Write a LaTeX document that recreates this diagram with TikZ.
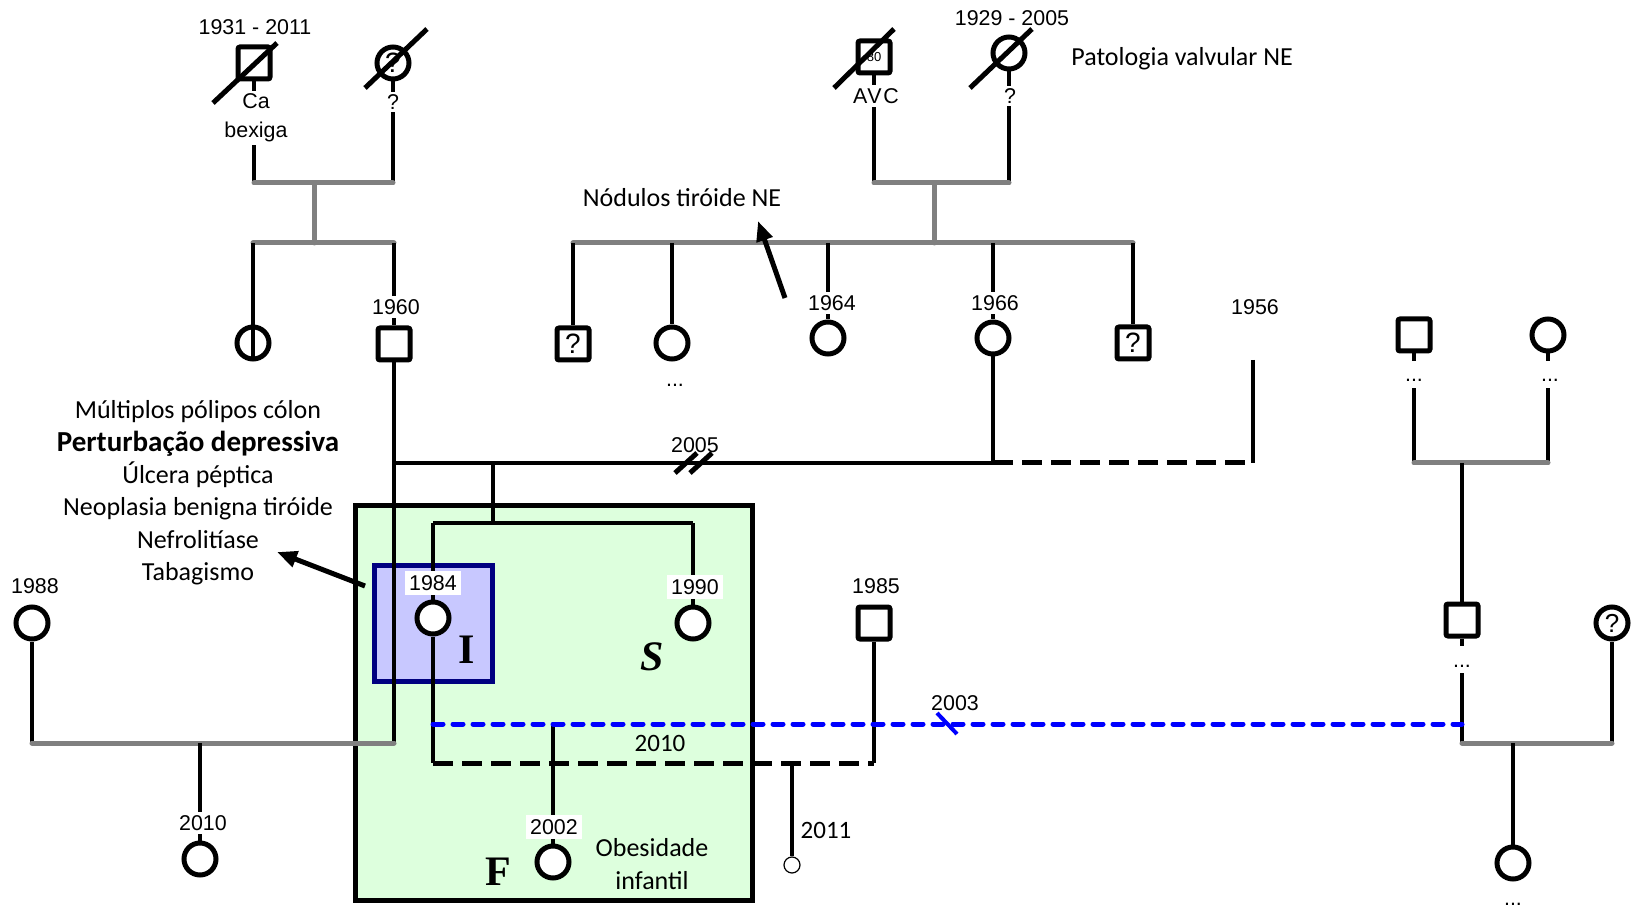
\documentclass[tikz,border=0pt]{standalone}
\usepackage{fontspec}
\setmainfont{Liberation Serif}
\newfontfamily\arialf{Liberation Sans}
\newfontfamily\calf{Carlito}
\usetikzlibrary{arrows.meta}
\definecolor{pgray}{HTML}{808080}
\definecolor{gfill}{HTML}{DDFFDD}
\definecolor{bfill}{HTML}{C8C8FF}
\definecolor{navyb}{HTML}{000080}
\definecolor{bdot}{HTML}{0000FF}
\pgfdeclarelayer{boxlayer}
\pgfdeclarelayer{linelayer}
\pgfsetlayers{boxlayer,linelayer,main}
\tikzset{
  sym/.style={draw=black,line width=2.5pt,fill=white,inner sep=0pt,minimum size=16pt},
  male/.style={sym,rectangle,rounded corners=1pt},
  female/.style={sym,circle},
  arl/.style={font=\arialf\fontsize{10.7pt}{12.8pt}\selectfont},
  lbl/.style={arl,inner sep=1.5pt,fill=white},
  lbln/.style={arl,inner sep=1pt},
  dotlbl/.style={arl,fill=white,inner xsep=1pt,inner ysep=3pt,anchor=base},
  qm/.style={font=\arialf\fontsize{14pt}{16pt}\selectfont},
  cal/.style={font=\calf\fontsize{13pt}{16.2pt}\selectfont,inner sep=0pt,align=center},
  conn/.style={line width=2pt,draw=black},
  gline/.style={line width=2.5pt,draw=pgray,line cap=round},
  dec/.style={line width=2.5pt,draw=black},
  bdash/.style={line width=2.5pt,draw=black,dash pattern=on 10pt off 4.5pt},
  bluedash/.style={line width=2.5pt,draw=bdot,dash pattern=on 5pt off 5pt,line cap=round},
  arr/.style={line width=2.5pt,draw=black,-{Triangle[length=10pt,width=8pt]}},
  letter/.style={font=\bfseries\fontsize{21pt}{24pt}\selectfont,inner sep=0pt},
  grp/.style={draw,line width=2.5pt,inner sep=0pt}
}
\begin{document}
\begin{tikzpicture}[x=0.5pt,y=-0.5pt]
\useasboundingbox (0,0) rectangle (1635,909);

% ---- group boxes
\begin{pgfonlayer}{boxlayer}
\node[grp,fill=gfill,minimum width=198.5pt,minimum height=197.5pt] (fbox) at (554,703) {};
\node[grp,draw=navyb,fill=bfill,minimum width=59pt,minimum height=58pt] (ibox) at (433.5,623.5) {};
\end{pgfonlayer}

% ---- top-left grandparents
\node[male] (gfa) at (254,63) {};
\node[female,qm] (gma) at (393,63) {?};
\node[lbln] (ya) at (255,27) {1931 - 2011};
\node[lbl,align=center,font=\arialf\fontsize{10.7pt}{14.5pt}\selectfont] (cab) at (256,118) {Ca\\bexiga};
\node[lbl] (qa) at (393,102) {?};
\coordinate (pa) at (254,183);
\coordinate (pb) at (393,183);
\coordinate (pm) at (314,183);
\coordinate (sm) at (314,243);
\coordinate (sl) at (253,243);
\coordinate (sr) at (394,243);

% ---- second row left
\node[female] (aunt) at (253,343) {};
\node[male] (fa) at (394,344) {};
\node[lbl] (y60) at (396,307) {1960};

% ---- top-right grandparents
\node[male,font=\arialf\fontsize{6.5pt}{7pt}\selectfont] (gfb) at (874,57) {80};
\node[female] (gmb) at (1009,53) {};
\node[lbln] (yb) at (1012,18) {1929 - 2005};
\node[lbl,font=\arialf\fontsize{10.7pt}{12.8pt}\addfontfeature{LetterSpace=8}\selectfont] (avc) at (876,96) {AVC};
\node[lbl] (qb) at (1010,96) {?};
\node[cal,anchor=west] (pat) at (1071,59) {Patologia valvular NE};
\coordinate (pc) at (874,183);
\coordinate (pd) at (1009,183);
\coordinate (pn) at (934,183);
\coordinate (sn) at (934,243);

% ---- second row right siblings
\node[male,qm] (u1) at (573,344) {?};
\node[female] (u2) at (672,343) {};
\node[lbln] (d2) at (675,385) {...};
\node[female] (u3) at (828,338) {};
\node[lbl] (y64) at (832,303) {1964};
\node[female] (u4) at (993,338) {};
\node[lbl] (y66) at (995,303) {1966};
\node[male,qm] (u5) at (1133,343) {?};
\coordinate (s2l) at (573,243);
\coordinate (s2r) at (1133,243);

\node[cal] (nod) at (682,198) {Nódulos tiróide NE};
\coordinate (nodtail) at (785,298);
\coordinate (nodtip) at (758,221);

% ---- 1956 partner
\node[lbln] (y56) at (1255,307) {1956};
\coordinate (p56) at (1253,360);
\coordinate (mL) at (394,463);
\coordinate (mR) at (993,463);
\coordinate (m56) at (1253,463);
\node[lbln] (y05) at (695,445) {2005};

% ---- children of 1960 & 1966
\coordinate (cd) at (493,463);
\coordinate (cs) at (493,523);
\coordinate (csl) at (433,523);
\coordinate (csr) at (693,523);
\node[female] (i84) at (433,618) {};
\node[lbl,inner sep=2pt] (y84) at (433,583) {1984};
\node[female] (s90) at (693,623) {};
\node[lbl,inner sep=2pt] (y90) at (695,587) {1990};
\node[letter] (lI) at (467,650) {I};
\node[letter,font=\bfseries\itshape\fontsize{21pt}{24pt}\selectfont] (lS) at (652,657) {S};
\node[letter] (lF) at (498,872) {F};

% ---- left text block
\node[cal] (hist) at (198,493) {Múltiplos pólipos cólon\\{\fontsize{14.5pt}{16.2pt}\selectfont\bfseries Perturbação depressiva}\\Úlcera péptica\\Neoplasia benigna tiróide\\Nefrolitíase\\Tabagismo};
\coordinate (artail) at (365,586);
\coordinate (artip) at (277,552);

% ---- 1984's partners and children
\coordinate (bl) at (433,724);
\coordinate (br) at (1462,724);
\coordinate (bd) at (553,724);
\node[female] (c02) at (553,862) {};
\node[lbl,inner sep=2pt] (y02) at (554,827) {2002};
\node[cal] (ob) at (652,864) {Obesidade\\infantil};
\node[font=\calf\fontsize{12.5pt}{14pt}\selectfont,inner sep=0pt] (y10b) at (660,743) {2010};
\coordinate (kl) at (433,763);
\coordinate (kr) at (874,763);
\node[male] (m85) at (874,623) {};
\node[lbln] (y85) at (876,586) {1985};
\coordinate (cd85) at (792,763);
\node[circle,draw,line width=0.6pt,fill=white,minimum size=8pt,inner sep=0pt] (c11) at (792,865) {};
\node[font=\calf\fontsize{12.5pt}{14pt}\selectfont,inner sep=0pt] (y11) at (826,830) {2011};
\node[lbln] (y03) at (955,703) {2003};

% ---- left family (1988)
\node[female] (w88) at (32,623) {};
\node[lbln] (y88) at (35,586) {1988};
\coordinate (wl) at (32,743);
\coordinate (wr) at (394,743);
\coordinate (wd) at (200,743);
\node[female] (c10) at (200,859) {};
\node[lbl] (y10) at (203,823) {2010};

% ---- right family
\node[male] (rm) at (1414,335) {};
\node[female] (rf) at (1548,335) {};
\node[dotlbl] (rmd) at (1414,382) {\vphantom{0}...};
\node[dotlbl] (rfd) at (1550,382) {\vphantom{0}...};
\coordinate (rl) at (1414,463);
\coordinate (rr) at (1548,463);
\coordinate (rd) at (1462,463);
\node[male] (rs) at (1462,620) {};
\node[dotlbl] (rsd) at (1462,667) {\vphantom{0}...};
\coordinate (ql) at (1462,743);
\coordinate (qr) at (1612,743);
\coordinate (qd) at (1513,743);
\node[female,font=\arialf\fontsize{13pt}{15pt}\selectfont] (rq) at (1612,623) {?};
\node[female] (rc) at (1513,863) {};
\node[lbln,anchor=base] (rcd) at (1513,905) {...};

% ---- connectors (under the symbols)
\begin{pgfonlayer}{linelayer}
\draw[conn] (gfa.south) -- (pa);
\draw[conn] (gma.south) -- (pb);
\draw[gline] (pa) -- (pb);
\draw[gline] (pm) -- (sm);
\draw[gline] (sl) -- (sr);
\draw[conn] (sr) -- (fa.north);
\draw[conn] (sl) -- (aunt.north);

\draw[conn] (gfb.south) -- (pc);
\draw[conn] (gmb.south) -- (pd);
\draw[gline] (pc) -- (pd);
\draw[gline] (pn) -- (sn);
\draw[gline] (s2l) -- (s2r);
\draw[conn] (s2l) -- (u1.north);
\draw[conn] (u2.north |- s2l) -- (u2.north);
\draw[conn] (u3.north |- s2l) -- (u3.north);
\draw[conn] (u4.north |- s2l) -- (u4.north);
\draw[conn] (s2r) -- (u5.north);

\draw[conn] (fa.south) -- (wr);
\draw[conn] (mL) -- (mR);
\draw[conn] (u4.south) -- (mR);
\draw[bdash] (mR) -- (m56);
\draw[conn] (p56) -- (m56);

\draw[conn] (cd) -- (cs);
\draw[conn] (csl) -- (csr);
\draw[conn] (csl) -- (i84.north);
\draw[conn] (csr) -- (s90.north);

\draw[conn] (i84.south) -- (kl);
\draw[bdash] (kl) -- (kr);
\draw[conn] (m85.south) -- (kr);
\draw[conn] (cd85) -- (c11.north);
\draw[conn] (bd) -- (c02.north);

\draw[conn] (w88.south) -- (wl);
\draw[gline] (wl) -- (wr);
\draw[conn] (wd) -- (c10.north);

\draw[conn] (rm.south) -- (rl);
\draw[conn] (rf.south) -- (rr);
\draw[gline] (rl) -- (rr);
\draw[conn] (rd) -- (rs.north);
\draw[conn] (rs.south) -- (ql);
\draw[conn] (rq.south) -- (qr);
\draw[gline] (ql) -- (qr);
\draw[conn] (qd) -- (rc.north);

\draw[bluedash] (bl) -- (br);
\end{pgfonlayer}

% ---- marks on top
\draw[dec] (213,103) -- (277,43);
\draw[dec] (365,88) -- (427,29);
\draw[dec] (834,88) -- (894,29);
\draw[dec] (970,88) -- (1032,29);
\draw[conn] (aunt.north) -- (aunt.south);
\draw[line width=2.5pt] (675,473) -- (697,453);
\draw[line width=2.5pt] (690,473) -- (712,453);
\draw[line width=2pt,draw=bdot] (937,713) -- (957,734);
\draw[arr] (nodtail) -- (nodtip);
\draw[arr] (artail) -- (artip);
\end{tikzpicture}
\end{document}
